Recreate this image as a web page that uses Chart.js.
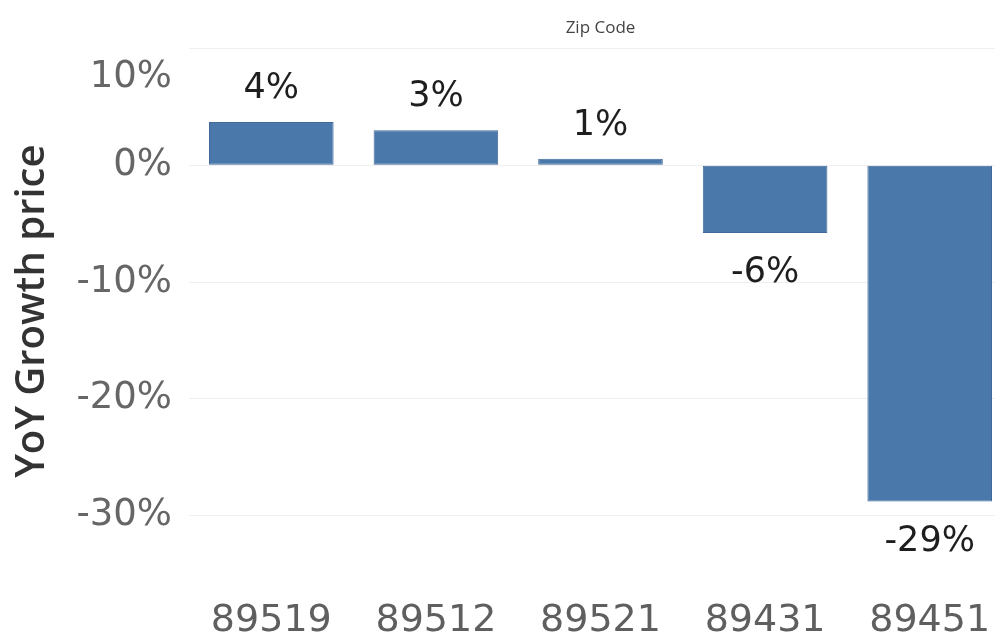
<!DOCTYPE html>
<html>
<head>
<meta charset="utf-8">
<script src="https://cdn.jsdelivr.net/npm/chart.js@4.4.1/dist/chart.umd.min.js"></script>
<style>
  html, body { margin: 0; padding: 0; background: #ffffff; overflow: hidden; }
  #wrap { position: relative; width: 1012px; height: 639px; }
</style>
</head>
<body>
<div id="wrap"><canvas id="chart"></canvas></div>
<script>
// Year-over-year price growth by zip code (percent)
const zipCodes = ['89519', '89512', '89521', '89431', '89451'];
const yoyGrowth = [3.7, 3.0, 0.55, -5.8, -28.8];
const yTickValues = [10, 0, -10, -20, -30];

const barBlue = '#4a78ab';
const tickFont = 'DejaVu Sans';

// Writes each bar's rounded value just beyond its end
const valueLabels = {
  id: 'valueLabels',
  afterDatasetsDraw(chart) {
    const { ctx } = chart;
    const meta = chart.getDatasetMeta(0);
    const ds = chart.data.datasets[0];
    ctx.save();
    ctx.font = '35px "' + tickFont + '"';
    ctx.fillStyle = '#1e1e1e';
    ctx.textAlign = 'center';
    ctx.textBaseline = 'middle';
    meta.data.forEach((bar, i) => {
      const v = ds.data[i];
      const text = Math.round(v) + '%';
      const y = v >= 0 ? bar.y - 33 : bar.y + 40;
      ctx.fillText(text, bar.x, y);
    });
    ctx.restore();
  }
};

new Chart(document.getElementById('chart'), {
  type: 'bar',
  data: {
    labels: zipCodes,
    datasets: [{
      label: 'YoY Growth price',
      data: yoyGrowth,
      backgroundColor: barBlue,
      borderColor: '#41699a',
      borderWidth: 1,
      borderSkipped: false,
      categoryPercentage: 0.757,
      barPercentage: 1.0
    }]
  },
  options: {
    responsive: true,
    maintainAspectRatio: false,
    animation: false,
    layout: { padding: { top: 0, left: 0, right: 0, bottom: 3 } },
    plugins: {
      legend: { display: false },
      tooltip: { enabled: false },
      title: {
        display: true,
        text: 'Zip Code',
        fullSize: false,
        color: '#444444',
        font: { family: 'Open Sans', size: 17, weight: 'normal', lineHeight: 1.2 },
        padding: { top: 18, bottom: 10 }
      }
    },
    scales: {
      x: {
        afterFit(axis) {
          axis.height = 62;
          axis.paddingLeft = 0;
          axis.paddingRight = 0;
        },
        grid: { display: false, drawTicks: false },
        border: { display: false },
        ticks: {
          color: '#5f5f5f',
          font: { family: tickFont, size: 38, lineHeight: 1 },
          padding: 28,
          maxRotation: 0,
          autoSkip: false
        }
      },
      y: {
        min: -35,
        max: 10,
        afterBuildTicks(axis) {
          axis.ticks = yTickValues.map(v => ({ value: v }));
        },
        afterFit(axis) {
          axis.width = 189;
          axis.paddingTop = 0;
          axis.paddingBottom = 0;
        },
        grid: { color: '#efefef', lineWidth: 1, drawTicks: false },
        border: { display: false },
        ticks: {
          color: '#666666',
          font: { family: tickFont, size: 37, lineHeight: 1.57 },
          padding: 17,
          // the top label sits one line below its tick, clear of the header
          callback: v => (v === 10 ? ['', v + '%'] : v + '%')
        },
        title: {
          display: true,
          text: 'YoY Growth price',
          color: '#333333',
          font: { family: 'Open Sans', size: 40, weight: 600, lineHeight: 1.2 },
          padding: { top: 9, bottom: 0 }
        }
      }
    }
  },
  plugins: [valueLabels]
});
</script>
</body>
</html>
